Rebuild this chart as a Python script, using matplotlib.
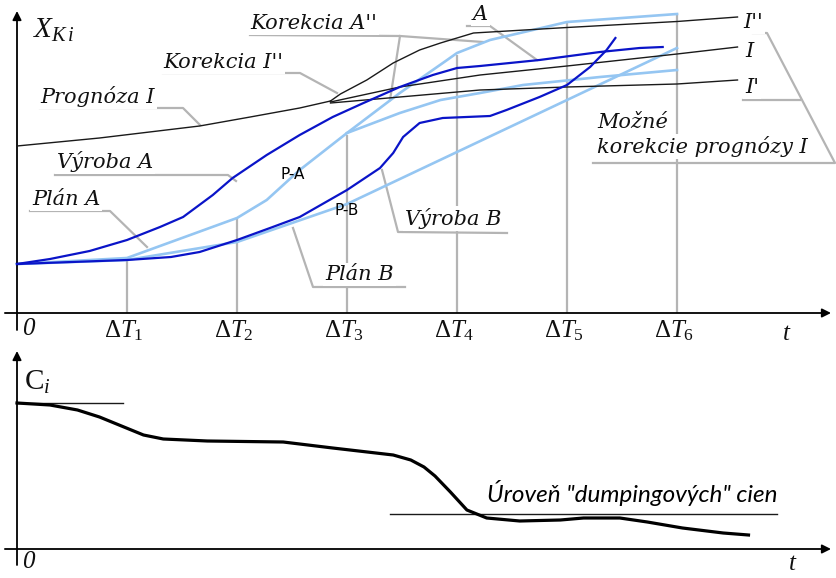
import matplotlib
matplotlib.use('Agg')
import matplotlib.pyplot as plt
from matplotlib.transforms import Affine2D

plt.rcParams['mathtext.fontset'] = 'custom'
plt.rcParams['mathtext.rm'] = 'Liberation Serif'
plt.rcParams['mathtext.it'] = 'Liberation Serif:italic'

W, H = 837, 578

# ---------------- data (t in units of ΔT, values in arbitrary units) -------------
dT_ticks = [1, 2, 3, 4, 5, 6]
dT_labels = [r'$\Delta T_1$', r'$\Delta T_2$', r'$\Delta T_3$',
             r'$\Delta T_4$', r'$\Delta T_5$', r'$\Delta T_6$']
dT_top = [5.4, 9.5, 17.8, 25.8, 29.1, 30.0]          # height of the drop lines

prog_t = [0.00, 0.75, 1.66, 2.12, 2.57, 2.85]
prog_x = [16.7, 17.5, 18.7, 19.6, 20.5, 21.2]

corrI2_t = [2.85, 2.94, 3.18, 3.42, 3.66, 3.85, 4.15, 5.00, 6.00, 6.55]
corrI2_x = [21.2, 21.9, 23.3, 25.0, 26.3, 27.0, 28.0, 28.55, 29.15, 29.6]

corrI_t = [2.85, 3.48, 4.21, 5.00, 6.00, 6.55]
corrI_x = [21.1, 22.6, 23.8, 24.7, 25.9, 26.6]

corrI1_t = [2.85, 3.48, 4.21, 5.00, 6.00, 6.55]
corrI1_x = [21.0, 21.6, 22.3, 22.6, 22.9, 23.3]

vyrA_t = [0.00, 0.30, 0.66, 1.00, 1.30, 1.51, 1.78, 1.96, 2.27, 2.57, 2.87,
          3.15, 3.48, 3.78, 4.00, 4.21, 4.75, 5.30, 5.66, 5.87]
vyrA_x = [4.9, 5.4, 6.2, 7.3, 8.6, 9.6, 11.8, 13.5, 15.8, 17.8, 19.6,
          21.0, 22.6, 23.8, 24.5, 24.7, 25.3, 26.1, 26.5, 26.6]

vyrB_t = [0.00, 1.00, 1.40, 1.66, 2.00, 2.30, 2.57, 3.00, 3.30, 3.42, 3.51,
          3.66, 3.87, 4.30, 4.45, 4.75, 5.00, 5.21, 5.36, 5.44]
vyrB_x = [4.9, 5.3, 5.6, 6.1, 7.3, 8.5, 9.6, 12.3, 14.5, 16.0, 17.6,
          19.0, 19.5, 19.7, 20.3, 21.6, 22.8, 24.6, 26.3, 27.5]

planA_t = [0.00, 1.00, 2.00, 2.27, 2.57, 3.00, 3.48, 3.91, 4.00, 4.30, 5.00, 6.00]
planA_x = [4.9, 5.5, 9.5, 11.3, 14.3, 18.0, 22.0, 25.3, 26.0, 27.3, 29.1, 29.9]

planA2_t = [3.00, 3.48, 3.85, 4.21, 4.60, 5.30, 6.00]
planA2_x = [18.0, 20.0, 21.3, 22.0, 22.8, 23.6, 24.3]

planB_t = [0.00, 1.00, 2.00, 3.00, 6.00]
planB_x = [4.9, 5.3, 7.1, 10.9, 26.5]

price_t = [0.00, 0.30, 0.55, 0.75, 0.95, 1.15, 1.33, 1.73, 2.42, 2.87, 3.42,
           3.58, 3.70, 3.80, 3.94, 4.09, 4.27, 4.57, 4.94, 5.15, 5.48, 5.73,
           6.05, 6.42, 6.65]
price_c = [14.6, 14.4, 13.9, 13.2, 12.3, 11.4, 11.0, 10.8, 10.7, 10.1, 9.4,
           8.9, 8.2, 7.3, 5.7, 3.9, 3.1, 2.8, 2.9, 3.1, 3.1, 2.7,
           2.1, 1.6, 1.4]
start_price = 14.6
start_price_t = [0.0, 0.96]
dumping_level = 3.5
dumping_t = [3.39, 6.91]

# ---------------- figure ---------------------------------------------------------
fig = plt.figure(figsize=(W / 100, H / 100), dpi=100)
fig.patch.set_facecolor('white')
pix = Affine2D().scale(1 / W, -1 / H).translate(0, 1) + fig.transFigure

XL = (-17 / 110, 820 / 110)
ax = fig.add_axes([0, 0, 1, 1])
ax.set_xlim(*XL)
ax.set_ylim(-26.5, 31.3)
ax.axis('off')

axb = fig.add_axes([0, 0, 1, 1])
axb.set_xlim(*XL)
axb.set_ylim(-2.9, 54.9)
axb.axis('off')
axb.patch.set_alpha(0)

DARK = '#0a14c8'
LIGHT = '#95c6f2'
GREY = '#b4b4b4'
BLK = '#1a1a1a'

# axes of top panel
arrow = dict(arrowstyle='-|>', lw=1.3, color='black', mutation_scale=13,
             shrinkA=0, shrinkB=0)
ax.annotate('', xy=(7.40, 0), xytext=(-0.11, 0), arrowprops=arrow)
ax.annotate('', xy=(0, 30.2), xytext=(0, -1.7), arrowprops=arrow)
# axes of bottom panel
axb.annotate('', xy=(7.40, 0), xytext=(-0.11, 0), arrowprops=arrow)
axb.annotate('', xy=(0, 19.8), xytext=(0, -1.6), arrowprops=arrow)

# drop lines at ΔT
for t, top in zip(dT_ticks, dT_top):
    ax.plot([t, t], [0, top], color=GREY, lw=1.6, zorder=1, solid_capstyle='butt')

# forecast lines
for tt, xx in [(prog_t, prog_x), (corrI2_t, corrI2_x), (corrI_t, corrI_x),
               (corrI1_t, corrI1_x)]:
    ax.plot(tt, xx, color=BLK, lw=1.0, zorder=3)

# plans (light blue)
for tt, xx in [(planA_t, planA_x), (planA2_t, planA2_x), (planB_t, planB_x)]:
    ax.plot(tt, xx, color=LIGHT, lw=1.9, zorder=2)

# production (dark blue)
for tt, xx in [(vyrA_t, vyrA_x), (vyrB_t, vyrB_x)]:
    ax.plot(tt, xx, color=DARK, lw=1.6, zorder=4)

# price curve
axb.plot(price_t, price_c, color='black', lw=2.3, zorder=4)
axb.plot(start_price_t, [start_price, start_price], color=BLK, lw=1.0)
axb.plot(dumping_t, [dumping_level, dumping_level], color=BLK, lw=1.0)

# ---------------- leaders and labels (pixel layout) -----------------------------
leaders = [
    [(250, 35), (400, 36), (483, 42)],
    [(400, 36), (390, 100)],
    [(467, 26), (490, 26), (537, 60)],
    [(163, 73), (300, 73), (337, 93)],
    [(40, 108), (183, 108), (200, 125)],
    [(55, 175), (228, 175), (236, 181)],
    [(30, 211), (110, 211), (147, 247)],
    [(405, 287), (313, 287), (293, 228)],
    [(382, 170), (398, 232), (507, 233)],
    [(753, 33), (767, 33), (835, 163), (593, 163)],
    [(743, 100), (800, 100)],
]
for path in leaders:
    xs, ys = zip(*path)
    ax.plot(xs, ys, color=GREY, lw=1.6, transform=pix, zorder=1)

serif = dict(family='DejaVu Serif', style='italic', fontsize=15, color='#111111',
             ha='left', va='baseline', transform=pix, zorder=6)
bg = dict(facecolor='white', edgecolor='none', pad=1.5)
labels = [
    ("Korekcia A''", 250, 29),
    ("A", 473, 20),
    ("Korekcia I''", 163, 68),
    ("Prognóza I", 40, 103),
    ("Výroba A", 57, 168),
    ("Plán A", 32, 205),
    ("Plán B", 325, 280),
    ("Výroba B", 405, 225),
    ("Možné", 597, 128),
    ("korekcie prognózy I", 597, 153),
    ("I''", 743, 28),
    ("I", 745, 57),
    ("I'", 745, 93),
]
for s, x, y in labels:
    ax.text(x, y, s, bbox=bg, **serif)

sans = dict(family='DejaVu Sans', fontsize=11, color='black', ha='left',
            va='baseline', transform=pix, zorder=6)
ax.text(281, 179, 'P-A', **sans)
ax.text(335, 215, 'P-B', **sans)

math = dict(fontsize=21, color='#111111', transform=pix, zorder=6)
ax.text(33, 38, r'$X_{K\,i}$', ha='left', va='baseline', **math)
ax.text(24, 390, r'$\mathrm{C}_i$', ha='left', va='baseline', **math)

tick = dict(fontsize=18, color='#111111', transform=pix, zorder=6, va='center')
ax.text(22, 329, '0', ha='left', family='Liberation Serif', style='italic', **tick)
ax.text(22, 562, '0', ha='left', family='Liberation Serif', style='italic', **tick)
ax.text(782, 333, r'$t$', ha='left', **tick)
ax.text(788, 563, r'$t$', ha='left', **tick)
for t, lab in zip(dT_ticks, dT_labels):
    ax.text(17 + 110 * t - 23, 331, lab, ha='left', **tick)

ax.text(487, 502, 'Úroveň "dumpingových" cien', family='Lato', style='italic',
        fontsize=17.5, color='black', ha='left', va='baseline', transform=pix,
        zorder=6)

fig.savefig('out.png', dpi=100, facecolor='white')
